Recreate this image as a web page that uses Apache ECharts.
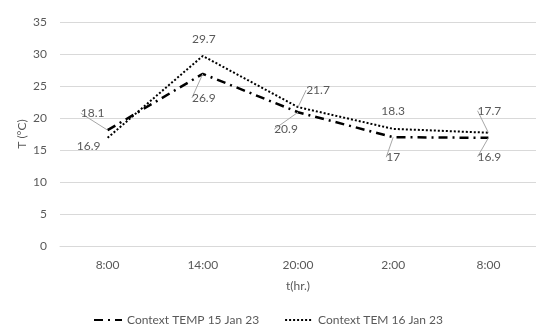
<!DOCTYPE html>
<html><head><meta charset="utf-8">
<script src="https://cdn.jsdelivr.net/npm/echarts@6/dist/echarts.min.js"></script>
<style>html,body{margin:0;padding:0;background:#fff}#c{width:536px;height:332px}</style>
</head><body><div id="c"></div>
<script>
const categories = ['8:00', '14:00', '20:00', '2:00', '8:00'];
const temp15 = [18.1, 26.9, 20.9, 17, 16.9];
const tem16 = [16.9, 29.7, 21.7, 18.3, 17.7];
const yTicks = { min: 0, max: 35, interval: 5 };

const off15 = [[-15, -17], [1, 24], [-12, 17], [0, 20], [1, 19]];
const off16 = [[-19, 8], [1, -17], [20, -17], [0, -18], [1, -22]];
const leader15 = [true, true, true, true, true];
const leader16 = [false, false, true, false, true];

const txt = '#595959';
const font = 'Lato';
const chart = echarts.init(document.getElementById('c'), null, { renderer: 'canvas' });
const lbl = { show: true, position: 'inside', color: txt, fontFamily: font, fontSize: 12 };
const ll = { show: true, lineStyle: { color: '#a6a6a6', width: 1 } };
const mk = (vals, lead) => vals.map((v, i) => ({ value: v, labelLine: { show: lead[i] } }));
chart.setOption({
  animation: false,
  textStyle: { fontFamily: font },
  grid: { left: 60, top: 22, width: 480, height: 224 },
  legend: {
    bottom: 1, left: 'center', itemWidth: 28, itemHeight: 10, itemGap: 25,
    itemStyle: { opacity: 0 },
    textStyle: { color: txt, fontFamily: font, fontSize: 12 },
    data: ['Context TEMP 15 Jan 23', 'Context TEM 16 Jan 23']
  },
  xAxis: {
    type: 'category', data: categories, boundaryGap: true,
    name: 't(hr.)', nameLocation: 'middle', nameGap: 34,
    nameTextStyle: { color: txt, fontFamily: font, fontSize: 12 },
    axisLine: { lineStyle: { color: '#d9d9d9' } }, axisTick: { show: false },
    axisLabel: { color: txt, fontFamily: font, fontSize: 12, margin: 13 }
  },
  yAxis: {
    type: 'value', min: yTicks.min, max: yTicks.max, interval: yTicks.interval,
    name: 'T (°C)', nameLocation: 'middle', nameGap: 32, nameRotate: 90,
    nameMoveOverlap: false,
    nameTextStyle: { color: txt, fontFamily: font, fontSize: 12 },
    axisLine: { show: false }, axisTick: { show: false },
    axisLabel: { color: txt, fontFamily: font, fontSize: 12, margin: 13 },
    splitLine: { lineStyle: { color: '#d9d9d9', width: 1 } }
  },
  series: [
    {
      name: 'Context TEMP 15 Jan 23', type: 'line', data: mk(temp15, leader15),
      symbol: 'circle', symbolSize: 0, showSymbol: true,
      lineStyle: { color: '#000', width: 2.5, type: [9, 5, 2, 5] },
      itemStyle: { color: '#000' },
      label: lbl, labelLine: ll,
      labelLayout: p => ({ dx: off15[p.dataIndex][0], dy: off15[p.dataIndex][1] })
    },
    {
      name: 'Context TEM 16 Jan 23', type: 'line', data: mk(tem16, leader16),
      symbol: 'circle', symbolSize: 0, showSymbol: true,
      lineStyle: { color: '#000', width: 2, type: [2, 2] },
      itemStyle: { color: '#000' },
      label: lbl, labelLine: ll,
      labelLayout: p => ({ dx: off16[p.dataIndex][0], dy: off16[p.dataIndex][1] })
    }
  ]
});
</script></body></html>
